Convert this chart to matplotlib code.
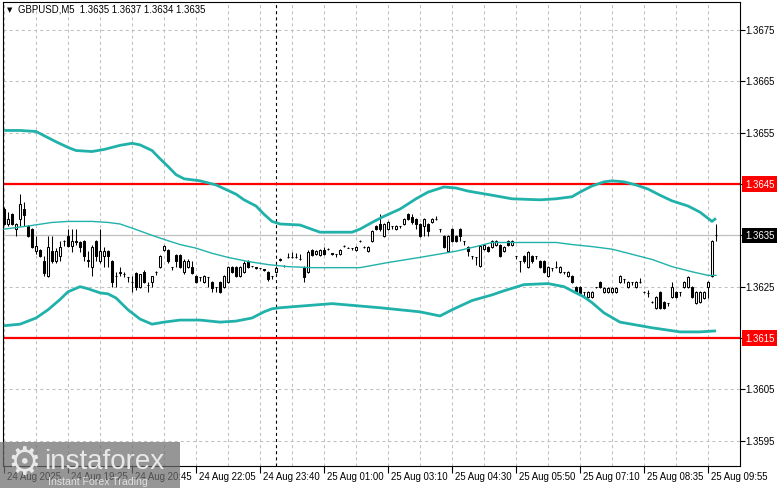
import matplotlib
matplotlib.use('Agg')
import matplotlib.pyplot as plt
import matplotlib.transforms as mtransforms
from matplotlib.patches import Rectangle
import numpy as np

plt.rcParams['lines.scale_dashes'] = False
FONT = ['Liberation Sans', 'DejaVu Sans']
plt.rcParams['font.family'] = FONT

# ---------------- data (GBPUSD M5 candles) ----------------
OPEN = [
1.36401, 1.36372, 1.36391, 1.36362, 1.36381, 1.36401, 1.36368, 1.36362, 1.36319, 1.36321,
1.36299, 1.36270, 1.36319, 1.36299, 1.36309, 1.36338, 1.36348, 1.36330, 1.36338, 1.36336,
1.36338, 1.36299, 1.36289, 1.36338, 1.36299, 1.36309, 1.36319, 1.36299, 1.36270, 1.36277,
1.36275, 1.36268, 1.36260, 1.36277, 1.36250, 1.36279, 1.36254, 1.36260, 1.36279, 1.36289,
1.36321, 1.36321, 1.36289, 1.36311, 1.36311, 1.36279, 1.36289, 1.36289, 1.36270, 1.36268,
1.36260, 1.36268, 1.36260, 1.36250, 1.36260, 1.36250, 1.36260, 1.36289, 1.36289, 1.36270,
1.36279, 1.36299, 1.36291, 1.36289, 1.36287, 1.36285, 1.36279, 1.36270, 1.36279, 1.36301,
1.36291, 1.36307, 1.36307, 1.36307, 1.36303, 1.36287, 1.36279, 1.36321, 1.36313, 1.36311,
1.36321, 1.36323, 1.36315, 1.36313, 1.36313, 1.36330, 1.36326, 1.36326, 1.36321, 1.36338,
1.36328, 1.36319, 1.36338, 1.36368, 1.36372, 1.36348, 1.36362, 1.36368, 1.36362, 1.36368,
1.36372, 1.36391, 1.36385, 1.36381, 1.36372, 1.36368, 1.36372, 1.36375, 1.36381, 1.36362,
1.36348, 1.36319, 1.36362, 1.36348, 1.36362, 1.36338, 1.36328, 1.36309, 1.36307, 1.36291,
1.36323, 1.36328, 1.36328, 1.36332, 1.36332, 1.36319, 1.36338, 1.36332, 1.36309, 1.36299,
1.36309, 1.36289, 1.36309, 1.36309, 1.36299, 1.36299, 1.36270, 1.36287, 1.36289, 1.36279,
1.36279, 1.36270, 1.36270, 1.36250, 1.36250, 1.36240, 1.36230, 1.36230, 1.36250, 1.36260,
1.36240, 1.36240, 1.36240, 1.36240, 1.36260, 1.36264, 1.36250, 1.36260, 1.36250, 1.36260,
1.36240, 1.36238, 1.36221, 1.36209, 1.36240, 1.36221, 1.36219, 1.36230, 1.36240, 1.36240,
1.36250, 1.36250, 1.36250, 1.36219, 1.36221, 1.36228, 1.36250, 1.36270, 1.36350,
]
HIGH = [
1.36405, 1.36395, 1.36393, 1.36374, 1.36430, 1.36415, 1.36370, 1.36364, 1.36348, 1.36323,
1.36309, 1.36348, 1.36348, 1.36326, 1.36338, 1.36340, 1.36362, 1.36362, 1.36362, 1.36338,
1.36340, 1.36319, 1.36332, 1.36340, 1.36362, 1.36328, 1.36321, 1.36301, 1.36279, 1.36289,
1.36279, 1.36268, 1.36270, 1.36279, 1.36275, 1.36283, 1.36260, 1.36270, 1.36281, 1.36311,
1.36332, 1.36323, 1.36289, 1.36313, 1.36313, 1.36303, 1.36303, 1.36299, 1.36272, 1.36268,
1.36272, 1.36268, 1.36262, 1.36250, 1.36262, 1.36272, 1.36291, 1.36291, 1.36291, 1.36291,
1.36299, 1.36301, 1.36291, 1.36289, 1.36287, 1.36285, 1.36281, 1.36270, 1.36291, 1.36305,
1.36293, 1.36315, 1.36317, 1.36315, 1.36313, 1.36291, 1.36321, 1.36323, 1.36321, 1.36323,
1.36328, 1.36325, 1.36315, 1.36313, 1.36323, 1.36332, 1.36328, 1.36326, 1.36330, 1.36340,
1.36330, 1.36330, 1.36360, 1.36370, 1.36391, 1.36374, 1.36377, 1.36368, 1.36370, 1.36368,
1.36383, 1.36393, 1.36391, 1.36383, 1.36374, 1.36383, 1.36374, 1.36383, 1.36387, 1.36362,
1.36350, 1.36350, 1.36364, 1.36350, 1.36364, 1.36338, 1.36330, 1.36309, 1.36307, 1.36332,
1.36334, 1.36330, 1.36340, 1.36340, 1.36334, 1.36330, 1.36340, 1.36340, 1.36309, 1.36299,
1.36311, 1.36319, 1.36311, 1.36309, 1.36301, 1.36301, 1.36291, 1.36287, 1.36299, 1.36291,
1.36279, 1.36281, 1.36272, 1.36252, 1.36252, 1.36240, 1.36242, 1.36242, 1.36250, 1.36262,
1.36250, 1.36250, 1.36250, 1.36250, 1.36272, 1.36264, 1.36262, 1.36260, 1.36262, 1.36266,
1.36242, 1.36244, 1.36223, 1.36232, 1.36242, 1.36223, 1.36219, 1.36260, 1.36242, 1.36240,
1.36262, 1.36270, 1.36252, 1.36242, 1.36242, 1.36242, 1.36262, 1.36340, 1.36372,
]
LOW = [
1.36370, 1.36368, 1.36370, 1.36348, 1.36368, 1.36368, 1.36346, 1.36326, 1.36313, 1.36307,
1.36270, 1.36268, 1.36297, 1.36297, 1.36299, 1.36330, 1.36328, 1.36317, 1.36332, 1.36317,
1.36299, 1.36289, 1.36270, 1.36299, 1.36297, 1.36289, 1.36289, 1.36250, 1.36250, 1.36270,
1.36268, 1.36260, 1.36240, 1.36244, 1.36248, 1.36258, 1.36240, 1.36250, 1.36272, 1.36287,
1.36319, 1.36297, 1.36283, 1.36289, 1.36287, 1.36274, 1.36287, 1.36274, 1.36258, 1.36262,
1.36258, 1.36250, 1.36240, 1.36240, 1.36238, 1.36248, 1.36258, 1.36277, 1.36268, 1.36268,
1.36277, 1.36287, 1.36289, 1.36285, 1.36285, 1.36281, 1.36262, 1.36264, 1.36277, 1.36299,
1.36289, 1.36305, 1.36305, 1.36305, 1.36301, 1.36260, 1.36277, 1.36309, 1.36311, 1.36309,
1.36311, 1.36321, 1.36311, 1.36307, 1.36311, 1.36328, 1.36325, 1.36321, 1.36319, 1.36336,
1.36326, 1.36317, 1.36336, 1.36360, 1.36358, 1.36346, 1.36360, 1.36362, 1.36360, 1.36364,
1.36370, 1.36379, 1.36372, 1.36362, 1.36346, 1.36348, 1.36348, 1.36374, 1.36379, 1.36356,
1.36326, 1.36317, 1.36336, 1.36336, 1.36338, 1.36332, 1.36309, 1.36303, 1.36293, 1.36289,
1.36321, 1.36317, 1.36326, 1.36330, 1.36307, 1.36317, 1.36330, 1.36330, 1.36303, 1.36279,
1.36297, 1.36287, 1.36297, 1.36303, 1.36287, 1.36277, 1.36268, 1.36281, 1.36287, 1.36277,
1.36274, 1.36268, 1.36258, 1.36238, 1.36236, 1.36232, 1.36228, 1.36228, 1.36248, 1.36248,
1.36238, 1.36238, 1.36238, 1.36238, 1.36258, 1.36258, 1.36248, 1.36254, 1.36248, 1.36258,
1.36238, 1.36230, 1.36219, 1.36207, 1.36207, 1.36207, 1.36213, 1.36228, 1.36228, 1.36232,
1.36248, 1.36248, 1.36228, 1.36217, 1.36219, 1.36226, 1.36228, 1.36268, 1.36338,
]
CLOSE = [
1.36372, 1.36381, 1.36372, 1.36372, 1.36411, 1.36389, 1.36348, 1.36328, 1.36330, 1.36309,
1.36277, 1.36328, 1.36299, 1.36319, 1.36328, 1.36338, 1.36330, 1.36338, 1.36336, 1.36328,
1.36309, 1.36301, 1.36328, 1.36309, 1.36319, 1.36319, 1.36309, 1.36260, 1.36270, 1.36279,
1.36275, 1.36268, 1.36260, 1.36250, 1.36274, 1.36260, 1.36254, 1.36270, 1.36279, 1.36309,
1.36330, 1.36299, 1.36289, 1.36299, 1.36289, 1.36299, 1.36299, 1.36277, 1.36260, 1.36268,
1.36270, 1.36268, 1.36248, 1.36250, 1.36240, 1.36270, 1.36289, 1.36279, 1.36270, 1.36289,
1.36297, 1.36289, 1.36291, 1.36287, 1.36287, 1.36283, 1.36264, 1.36270, 1.36287, 1.36303,
1.36291, 1.36307, 1.36307, 1.36307, 1.36303, 1.36268, 1.36317, 1.36311, 1.36319, 1.36321,
1.36313, 1.36323, 1.36313, 1.36313, 1.36321, 1.36330, 1.36326, 1.36326, 1.36328, 1.36338,
1.36328, 1.36328, 1.36358, 1.36362, 1.36362, 1.36372, 1.36375, 1.36368, 1.36368, 1.36368,
1.36381, 1.36381, 1.36375, 1.36372, 1.36348, 1.36381, 1.36358, 1.36381, 1.36381, 1.36362,
1.36328, 1.36348, 1.36338, 1.36338, 1.36348, 1.36338, 1.36319, 1.36309, 1.36307, 1.36330,
1.36332, 1.36319, 1.36338, 1.36338, 1.36309, 1.36328, 1.36332, 1.36338, 1.36309, 1.36299,
1.36299, 1.36317, 1.36299, 1.36309, 1.36289, 1.36279, 1.36289, 1.36287, 1.36289, 1.36289,
1.36279, 1.36279, 1.36260, 1.36240, 1.36238, 1.36240, 1.36240, 1.36240, 1.36250, 1.36250,
1.36248, 1.36248, 1.36248, 1.36248, 1.36270, 1.36264, 1.36260, 1.36260, 1.36260, 1.36260,
1.36240, 1.36238, 1.36221, 1.36230, 1.36209, 1.36209, 1.36219, 1.36250, 1.36230, 1.36240,
1.36260, 1.36268, 1.36230, 1.36240, 1.36240, 1.36240, 1.36260, 1.36338, 1.36350,
]

# Bollinger bands, read at sample bars
UPPER_IDX = [0, 4, 8, 10, 13, 16, 18, 22, 25, 29, 32, 34, 37, 39, 41, 43, 45, 49, 53, 58,
             60, 63, 65, 67, 69, 74, 79, 87, 89, 92, 95, 99, 103, 106, 110, 113, 116, 122,
             127, 134, 138, 142, 144, 147, 150, 152, 155, 158, 161, 164, 167, 171, 174, 177, 178]
UPPER = [1.36554, 1.36554, 1.36552, 1.36544, 1.36532, 1.36521, 1.36515, 1.36513, 1.36517,
         1.36525, 1.36529, 1.36526, 1.36515, 1.36499, 1.36484, 1.36468, 1.36460, 1.36456,
         1.36448, 1.36430, 1.36419, 1.36407, 1.36391, 1.36377, 1.36372, 1.36370, 1.36356,
         1.36356, 1.36362, 1.36375, 1.36387, 1.36401, 1.36421, 1.36434, 1.36444, 1.36442,
         1.36436, 1.36428, 1.36421, 1.36419, 1.36421, 1.36425, 1.36434, 1.36446, 1.36454,
         1.36456, 1.36454, 1.36448, 1.36440, 1.36428, 1.36417, 1.36407, 1.36395, 1.36377, 1.36383]
MIDDLE_IDX = [0, 6, 12, 16, 22, 26, 29, 32, 37, 40, 44, 48, 52, 56, 61, 66, 71, 77, 83, 89,
              96, 104, 113, 118, 122, 127, 138, 142, 147, 152, 157, 162, 167, 172, 176, 178]
MIDDLE = [1.36362, 1.36368, 1.36375, 1.36377, 1.36377, 1.36375, 1.36372, 1.36364, 1.36350,
          1.36342, 1.36332, 1.36325, 1.36315, 1.36307, 1.36299, 1.36293, 1.36289, 1.36287,
          1.36287, 1.36287, 1.36297, 1.36307, 1.36319, 1.36328, 1.36336, 1.36336, 1.36336,
          1.36332, 1.36328, 1.36323, 1.36313, 1.36303, 1.36289, 1.36279, 1.36272, 1.36272]
LOWER_IDX = [0, 4, 8, 11, 14, 16, 19, 21, 24, 26, 28, 31, 34, 37, 40, 44, 49, 54, 58, 62,
             65, 67, 69, 82, 94, 104, 109, 112, 117, 122, 125, 130, 136, 140, 145, 147, 150,
             154, 162, 169, 174, 178]
LOWER = [1.36174, 1.36177, 1.36189, 1.36205, 1.36225, 1.36240, 1.36250, 1.36246, 1.36238,
         1.36236, 1.36228, 1.36205, 1.36187, 1.36177, 1.36181, 1.36185, 1.36185, 1.36181,
         1.36183, 1.36189, 1.36201, 1.36207, 1.36209, 1.36217, 1.36209, 1.36201, 1.36193,
         1.36205, 1.36223, 1.36234, 1.36242, 1.36254, 1.36256, 1.36250, 1.36230, 1.36219,
         1.36199, 1.36181, 1.36170, 1.36162, 1.36162, 1.36164]

LEVELS = [1.3645, 1.3615]          # red horizontal levels
BID = 1.3635                       # current price line
SEPARATOR_BAR = 68                 # day separator
PRICE_TICKS = [1.3595, 1.3605, 1.3615, 1.3625, 1.3635, 1.3645, 1.3655, 1.3665, 1.3675]
TIME_IDX = [0, 16, 32, 48, 64, 80, 96, 112, 128, 144, 160, 176]
TIME_LABELS = ['24 Aug 2025', '24 Aug 19:25', '24 Aug 20:45', '24 Aug 22:05',
               '24 Aug 23:40', '25 Aug 01:00', '25 Aug 03:10', '25 Aug 04:30',
               '25 Aug 05:50', '25 Aug 07:10', '25 Aug 08:35', '25 Aug 09:55']
TITLE = 'GBPUSD,M5  1.3635 1.3637 1.3634 1.3635'

# ---------------- figure ----------------
W, H = 781, 489
fig = plt.figure(figsize=(W / 100, H / 100), dpi=100)
fig.patch.set_facecolor('white')
L, R, T, B = 3, 740, 3, 467
ax = fig.add_axes([L / W, 1 - B / H, (R - L) / W, (B - T) / H])
ax.set_facecolor('white')
ax.set_xlim(-0.25, 184)
ax.set_ylim(1.35901, 1.36804)

for s in ax.spines.values():
    s.set_color('black')
    s.set_linewidth(0.8)

# grid
grid_kw = dict(color='#c0c0c0', linewidth=0.75, linestyle=(0, (2.2, 2.2)))
ax.set_xticks(TIME_IDX)
ax.set_xticks([i + 8 for i in TIME_IDX], minor=True)
ax.set_xticklabels([])
ax.tick_params(axis='x', which='major', length=5, width=0.8, direction='out', color='black')
ax.tick_params(axis='x', which='minor', length=0)
ax.grid(True, axis='x', which='both', **grid_kw)
ax.yaxis.tick_right()
ax.set_yticks(PRICE_TICKS)
ax.set_yticklabels([])
ax.tick_params(axis='y', length=3.5, width=0.8, direction='out', color='black')
ax.grid(True, axis='y', which='major', **grid_kw)
ax.set_axisbelow(True)

# lines
ax.axhline(BID, color='#c0c0c0', linewidth=0.9, zorder=1.5)
ax.axvline(SEPARATOR_BAR, color='black', linewidth=0.8, linestyle=(0, (2.2, 2.2)), zorder=1.6)
for lv in LEVELS:
    ax.axhline(lv, color='#ff0000', linewidth=1.6, zorder=2)

# candles
o = np.array(OPEN); h = np.array(HIGH); l = np.array(LOW); c = np.array(CLOSE)
x = np.arange(len(o))
ax.vlines(x, l, h, color='black', linewidth=0.75, zorder=3)
faces = np.where(c > o, 'white', 'black')
ax.bar(x, c - o, bottom=o, width=0.7, color=faces, edgecolor='black',
       linewidth=0.75, zorder=4)

# bands
band_color = '#20b2aa'
ax.plot(UPPER_IDX, UPPER, color=band_color, linewidth=2.0, zorder=5, solid_capstyle='butt')
ax.plot(LOWER_IDX, LOWER, color=band_color, linewidth=2.0, zorder=5, solid_capstyle='butt')
ax.plot(MIDDLE_IDX, MIDDLE, color=band_color, linewidth=1.0, zorder=5)

# price labels on the right
ytr = mtransforms.offset_copy(ax.get_yaxis_transform(), fig=fig, x=5, y=0, units='dots')
special = {1.3645: '#ff0000', 1.3615: '#ff0000', 1.3635: '#000000'}
for p in PRICE_TICKS:
    lab = f'{p:.4f}'
    if p in special:
        ax.text(1.0, p, lab, transform=ytr, ha='left', va='center', fontsize=6.9,
                color='white', clip_on=False,
                bbox=dict(boxstyle='square,pad=0.28', fc=special[p], ec='none'))
    else:
        ax.text(1.0, p, lab, transform=ytr, ha='left', va='center', fontsize=6.9,
                color='black', clip_on=False)

# time labels
xtr = mtransforms.offset_copy(ax.get_xaxis_transform(), fig=fig, x=3, y=-10, units='dots')
for i, lab in zip(TIME_IDX, TIME_LABELS):
    ax.text(i, 0, lab, transform=xtr, ha='left', va='center', fontsize=6.9,
            color='black', clip_on=False)

# title
fig.text(7 / W, 1 - 10 / H, '\u25bc', fontsize=5, ha='left', va='center',
         family='DejaVu Sans', color='black')
fig.text(18 / W, 1 - 10 / H, TITLE, fontsize=6.9, ha='left', va='center', color='black')

# watermark (overlays the first time labels, as in the source chart)
fig.patches.append(Rectangle((0, 0), 180 / W, 46 / H, transform=fig.transFigure,
                             facecolor='#6e6e6e', alpha=0.72, edgecolor='none', zorder=10))
fig.text(24 / W, 1 - 464 / H, '\u2699', fontsize=27, ha='center', va='center',
         family='DejaVu Sans', color='#e8e8e8', zorder=11)
fig.text(44 / W, 1 - 469 / H, 'instaforex', fontsize=20, ha='left', va='baseline',
         color='#e8e8e8', zorder=11)
fig.text(48 / W, 1 - 485 / H, 'Instant Forex Trading', fontsize=7.6, ha='left',
         va='baseline', color='#e0e0e0', zorder=11)

fig.savefig('out.png', dpi=100, facecolor='white')
